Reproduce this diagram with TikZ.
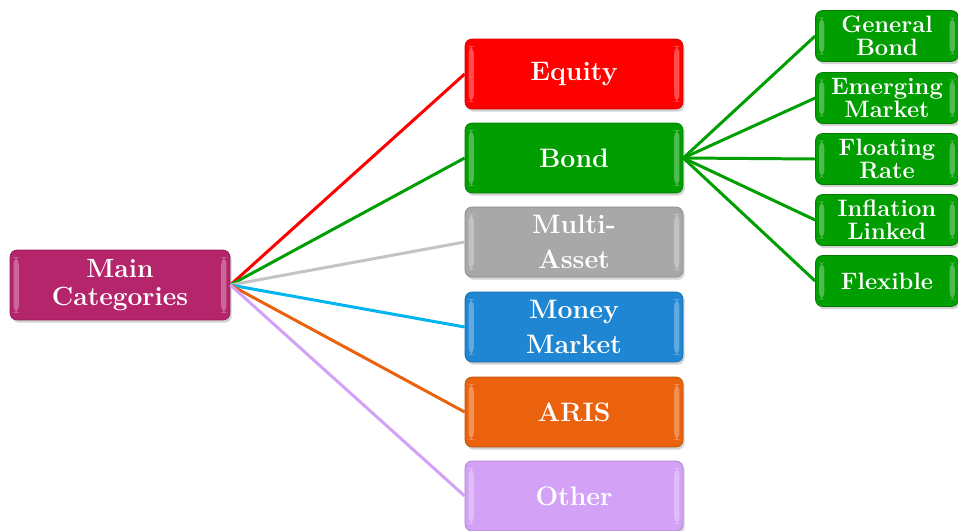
\documentclass[tikz,border=0pt]{standalone}
\usepackage{tikz}
\usetikzlibrary{calc,shadows}
\definecolor{maincol}{HTML}{B4256C}
\definecolor{eqcol}{HTML}{FF0000}
\definecolor{bondcol}{HTML}{009E00}
\definecolor{multicol}{HTML}{A8A8A8}
\definecolor{moneycol}{HTML}{1E86D2}
\definecolor{ariscol}{HTML}{EA620E}
\definecolor{othercol}{HTML}{D3A2F7}
\definecolor{cyanline}{HTML}{00B4F0}
\definecolor{grayline}{HTML}{C4C4C4}
\tikzset{
    box/.style={rectangle, rounded corners=4pt, draw=#1!80!black, line width=0.4pt, fill=#1,
      text=white, font=\bfseries, align=center, inner sep=1pt,
      drop shadow={shadow xshift=1pt, shadow yshift=-1.5pt, opacity=0.35},
      path picture={
        \fill[white, opacity=0.3] ($(path picture bounding box.south west)+(2pt,4pt)$)
          rectangle ($(path picture bounding box.north west)+(5pt,-4pt)$);
        \fill[white, opacity=0.3] ($(path picture bounding box.south east)+(-2pt,4pt)$)
          rectangle ($(path picture bounding box.north east)+(-5pt,-4pt)$);
      }},
    catbox/.style={box=#1, minimum width=4.36cm, minimum height=1.4cm,
      font=\fontsize{15.2}{20}\selectfont\bfseries},
    subbox/.style={box=bondcol, minimum width=2.86cm, minimum height=1.02cm,
      font=\fontsize{13.5}{12.8}\selectfont\bfseries},
    link/.style={line width=1.7pt, #1},
  }
\begin{document}
\begin{tikzpicture}[x=0.02cm, y=-0.02cm]
    \useasboundingbox (0,0) rectangle (958,531);
    %racine
    \node[box=maincol, minimum width=4.4cm, minimum height=1.4cm,
          font=\fontsize{15}{16}\selectfont\bfseries] (Main) at (120,285) {Main\\Categories};
    %categories
    \node[catbox=eqcol] (Equity) at (574,74) {Equity};
    \node[catbox=bondcol] (Bond) at (574,158) {Bond};
    \node[catbox=multicol] (Multi) at (574,242) {Multi-\\Asset};
    \node[catbox=moneycol] (Money) at (574,327) {Money\\Market};
    \node[catbox=ariscol] (Aris) at (574,412) {ARIS};
    \node[catbox=othercol] (Other) at (574,496) {Other};
    %sous-categories obligations
    \node[subbox] (General) at (887,36) {General\\Bond};
    \node[subbox] (Emerging) at (887,98) {Emerging\\Market};
    \node[subbox] (Floating) at (887,159) {Floating\\Rate};
    \node[subbox] (Inflation) at (887,220) {Inflation\\Linked};
    \node[subbox] (Flexible) at (887,281) {Flexible};
    %liens
    \draw[link=eqcol] (Main.east) -- (Equity.west);
    \draw[link=bondcol] (Main.east) -- (Bond.west);
    \draw[link=grayline] (Main.east) -- (Multi.west);
    \draw[link=cyanline] (Main.east) -- (Money.west);
    \draw[link=ariscol] (Main.east) -- (Aris.west);
    \draw[link=othercol] (Main.east) -- (Other.west);
    \foreach \sub in {General,Emerging,Floating,Inflation,Flexible}
      \draw[link=bondcol] (Bond.east) -- (\sub.west);
\end{tikzpicture}
\end{document}
